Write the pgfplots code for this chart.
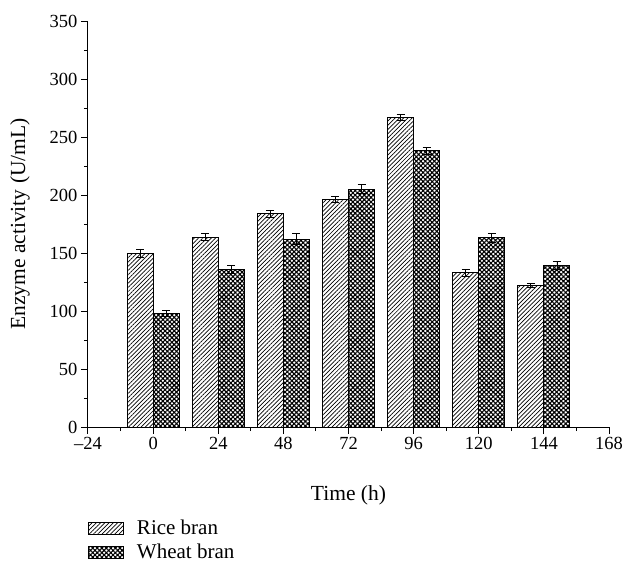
\documentclass[border=0pt]{standalone}
\usepackage{pgfplots}
\pgfplotsset{compat=1.18}
\usepackage{fontspec}
\setmainfont{Liberation Serif}
\usetikzlibrary{patterns.meta}
\begin{document}
\begin{tikzpicture}
\path[use as bounding box] (-88bp,-137bp) rectangle (538bp,427bp);
\begin{axis}[
  at={(0,0)}, anchor=south west,
  scale only axis, width=521bp, height=406bp,
  xmin=-24, xmax=168, ymin=0, ymax=350,
  ybar,
  axis x line*=bottom, axis y line*=left,
  axis line style={line width=1bp},
  every tick/.style={black, line width=1bp},
  tick align=outside,
  major tick length=7bp, minor tick length=4bp,
  xtick={-24,0,24,48,72,96,120,144,168},
  ytick={0,50,...,350},
  minor x tick num=1, minor y tick num=1,
  /pgf/number format/assume math mode=true,
  xticklabels={\textendash24,0,24,48,72,96,120,144,168},
  ticklabel style={font=\fontsize{18.5bp}{20bp}\selectfont},
  xlabel={Time (h)},
  ylabel={Enzyme activity (U/mL)},
  label style={font=\fontsize{21.5bp}{23bp}\selectfont},
  xlabel style={at={(axis description cs:0.5,-0.1675)}, anchor=center},
  ylabel style={at={(axis description cs:-0.1305,0.5)}, anchor=center},
  legend style={at={(axis description cs:0,-0.232)}, anchor=north west,
    draw=none, fill=none, inner sep=0pt, row sep=10.5bp,
    font=\fontsize{21bp}{23bp}\selectfont,
    nodes={inner sep=0pt, text height=13bp, text depth=1bp},
    /tikz/every odd column/.style={column sep=13bp}},
  legend cell align=left,
  legend image code/.code={\draw[#1, draw=black, line width=0.8bp] (0bp,-6bp) rectangle (35bp,6bp);},
  error bars/y dir=both, error bars/y explicit,
  error bars/error bar style={line width=0.8bp, black},
  error bars/error mark options={rotate=90, mark size=4bp, line width=0.8bp, black},
]
\addplot[draw=black, line width=1bp, bar width=9.6, bar shift=-4.8,
  pattern={Lines[angle=45,distance=3bp,line width=0.7bp]}]
  coordinates {(0,150) +- (0,3.5) (24,163.5) +- (0,3) (48,184) +- (0,3) (72,196) +- (0,2.5) (96,267) +- (0,2.5) (120,133) +- (0,3) (144,122) +- (0,2)};
\addlegendentry{Rice bran}
\addplot[draw=black, line width=1bp, bar width=9.6, bar shift=4.8,
  pattern={Hatch[angle=45,distance=3.2bp,line width=1.1bp]}]
  coordinates {(0,98) +- (0,2.5) (24,136) +- (0,3.5) (48,162) +- (0,5) (72,205) +- (0,4) (96,238) +- (0,3) (120,163) +- (0,4) (144,139.5) +- (0,3.5)};
\addlegendentry{Wheat bran}
\end{axis}
\end{tikzpicture}
\end{document}
